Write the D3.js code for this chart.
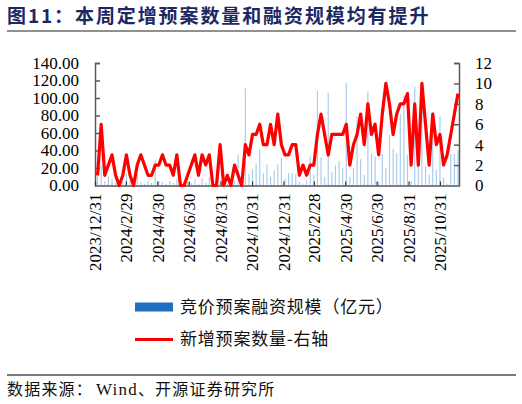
<!DOCTYPE html>
<html>
<head>
<meta charset="utf-8">
<script src="https://cdn.jsdelivr.net/npm/d3@7"></script>
<style>
  body { margin: 0; background: #fff; }
  svg { display: block; }
</style>
</head>
<body>
<div id="chart"></div>
<script>
var W = 522, H = 404;

// first weekly observation, one point per week after it
var firstWeek = "2024-01-05";
// 竞价预案融资规模（亿元）, weekly
var financing = [20, 23, 5, 10, 7, 3, 2, 4, 14, 5, 2, 13, 4, 2, 5, 3, 29, 5, 4, 2,
  5, 3, 8, 3, 1, 4, 3, 7, 2, 8, 3, 10, 2, 1, 6, 4, 2, 4, 6, 35,
  5, 111, 13, 18, 25, 41, 14, 24, 10, 17, 24, 32, 8, 14, 14, 13, 4, 2, 6, 33,
  12, 108, 32, 10, 106, 15, 23, 28, 20, 117, 10, 20, 79, 30, 12, 107, 36, 33, 4, 36,
  20, 58, 42, 37, 82, 103, 35, 5, 113, 35, 115, 22, 12, 84, 18, 79, 9, 2, 36, 36, 40];
// 新增预案数量, weekly, right axis
var newPlans = [1, 6, 1, 2, 3, 1, 0, 1, 3, 1, 0, 2, 3, 2, 1, 1, 2, 2, 3, 2,
  2, 1, 3, 0, 0, 1, 2, 3, 1, 3, 2, 3, 0, 0, 4, 0, 1, 0, 2, 1,
  0, 4, 3, 5, 5, 6, 4, 4, 6, 4, 7, 4, 3, 3, 4, 4, 1, 2, 1, 2,
  2, 5, 7, 5, 3, 5, 5, 5, 5, 6, 2, 4, 5, 7, 4, 8, 5, 6, 3, 7,
  10, 8, 5, 7, 8, 8, 9, 2, 8, 2, 10, 6, 2, 7, 4, 5, 2, 3, 5, 7, 9];

var xTickLabels = ["2023/12/31", "2024/2/29", "2024/4/30", "2024/6/30", "2024/8/31", "2024/10/31",
  "2024/12/31", "2025/2/28", "2025/4/30", "2025/6/30", "2025/8/31", "2025/10/31"];
var leftTicks = [0, 20, 40, 60, 80, 100, 120, 140];
var rightTicks = [0, 2, 4, 6, 8, 10, 12];

var title = "图11：本周定增预案数量和融资规模均有提升";
var legendNames = ["竞价预案融资规模（亿元）", "新增预案数量-右轴"];
var sourceParts = ["数据来源：", "Wind", "、开源证券研究所"];

var parseSlash = d3.timeParse("%Y/%m/%d");
var parseIso = d3.timeParse("%Y-%m-%d");
var start = parseIso(firstWeek);
var dates = financing.map(function(d, i) { return d3.timeWeek.offset(start, i); });

var margin = {left: 95, right: 459, top: 63, bottom: 185.5};

var x = d3.scaleTime()
  .domain([parseSlash("2023/12/31"), parseSlash("2025/12/7")])
  .range([margin.left, margin.right]);
var yL = d3.scaleLinear().domain([0, 140]).range([margin.bottom, margin.top]);
var yR = d3.scaleLinear().domain([0, 12]).range([margin.bottom, margin.top]);

var svg = d3.select("#chart").append("svg")
  .attr("width", W).attr("height", H);

var serif = "'Liberation Serif', 'Times New Roman', serif";
var cjk = "'Noto Sans CJK SC', 'Noto Sans', sans-serif";

// title
svg.append("text")
  .attr("x", 7).attr("y", 23)
  .attr("font-family", cjk).attr("font-weight", "bold")
  .attr("font-size", 19).attr("letter-spacing", 1.9)
  .attr("fill", "#1c2763")
  .text(title);
svg.append("line")
  .attr("x1", 7).attr("x2", 516).attr("y1", 31).attr("y2", 31)
  .attr("stroke", "#6b6b6b").attr("stroke-width", 1.5);

// bars
svg.append("g").selectAll("rect")
  .data(financing)
  .enter().append("rect")
  .attr("x", function(d, i) { return x(dates[i]) - 0.6; })
  .attr("width", 1.2)
  .attr("y", function(d) { return yL(d); })
  .attr("height", function(d) { return yL(0) - yL(d); })
  .attr("fill", "#abcdec");

// left axis
var gL = svg.append("g").attr("transform", "translate(" + margin.left + ",0)")
  .call(d3.axisLeft(yL).tickValues(leftTicks).tickSizeInner(-5).tickSizeOuter(-5)
    .tickPadding(16).tickFormat(d3.format(".2f")));
// right axis
var gR = svg.append("g").attr("transform", "translate(" + margin.right + ",0)")
  .call(d3.axisRight(yR).tickValues(rightTicks).tickSizeInner(-5).tickSizeOuter(-5)
    .tickPadding(16).tickFormat(d3.format("d")));
[gL, gR].forEach(function(g) {
  g.select(".domain").attr("stroke", "#595959").attr("stroke-width", 1.5);
  g.selectAll(".tick line").attr("stroke", "#595959").attr("stroke-width", 1.5);
  g.selectAll("text").attr("font-family", serif).attr("font-size", 17).attr("fill", "#000");
});

// bottom axis
var gX = svg.append("g").attr("transform", "translate(0," + margin.bottom + ")")
  .call(d3.axisBottom(x).tickValues(xTickLabels.map(parseSlash))
    .tickSizeInner(-4).tickSizeOuter(0).tickFormat(d3.timeFormat("%Y/%-m/%-d")));
gX.select(".domain").attr("stroke", "#7f7f7f").attr("stroke-width", 2);
gX.selectAll(".tick line").attr("stroke", "#333").attr("stroke-width", 1.2);
gX.selectAll("text")
  .attr("font-family", serif).attr("font-size", 17).attr("fill", "#000")
  .attr("text-anchor", "end")
  .attr("transform", "rotate(-90)")
  .attr("x", -8).attr("y", 0).attr("dy", "0.35em");

// red line
var line = d3.line()
  .x(function(d, i) { return x(dates[i]); })
  .y(function(d) { return yR(d); });
svg.append("path")
  .datum(newPlans)
  .attr("d", line)
  .attr("fill", "none")
  .attr("stroke", "#ff0000")
  .attr("stroke-width", 3.2)
  .attr("stroke-linejoin", "round");

// legend
var lg = svg.append("g");
lg.append("rect").attr("x", 135).attr("y", 302.5).attr("width", 38).attr("height", 9)
  .attr("fill", "#1f6fc1");
lg.append("line").attr("x1", 135).attr("x2", 173).attr("y1", 339.5).attr("y2", 339.5)
  .attr("stroke", "#ff0000").attr("stroke-width", 3);
lg.selectAll("text").data(legendNames).enter().append("text")
  .attr("x", 180)
  .attr("y", function(d, i) { return i === 0 ? 307 : 339.5; })
  .attr("dy", "0.35em")
  .attr("font-family", cjk).attr("font-size", 17).attr("letter-spacing", 0.8)
  .attr("fill", "#111")
  .text(function(d) { return d; });

// footer
svg.append("line")
  .attr("x1", 7).attr("x2", 516).attr("y1", 375).attr("y2", 375)
  .attr("stroke", "#7a7a7a").attr("stroke-width", 2);
var src = svg.append("text")
  .attr("x", 7).attr("y", 395)
  .attr("font-size", 16).attr("letter-spacing", 1.2)
  .attr("fill", "#111");
src.selectAll("tspan").data(sourceParts).enter().append("tspan")
  .attr("font-family", function(d, i) { return i === 1 ? serif : cjk; })
  .attr("font-size", function(d, i) { return i === 1 ? 17 : 16; })
  .attr("dx", function(d, i) { return i === 1 ? 3 : 0; })
  .text(function(d) { return d; });
</script>
</body>
</html>
